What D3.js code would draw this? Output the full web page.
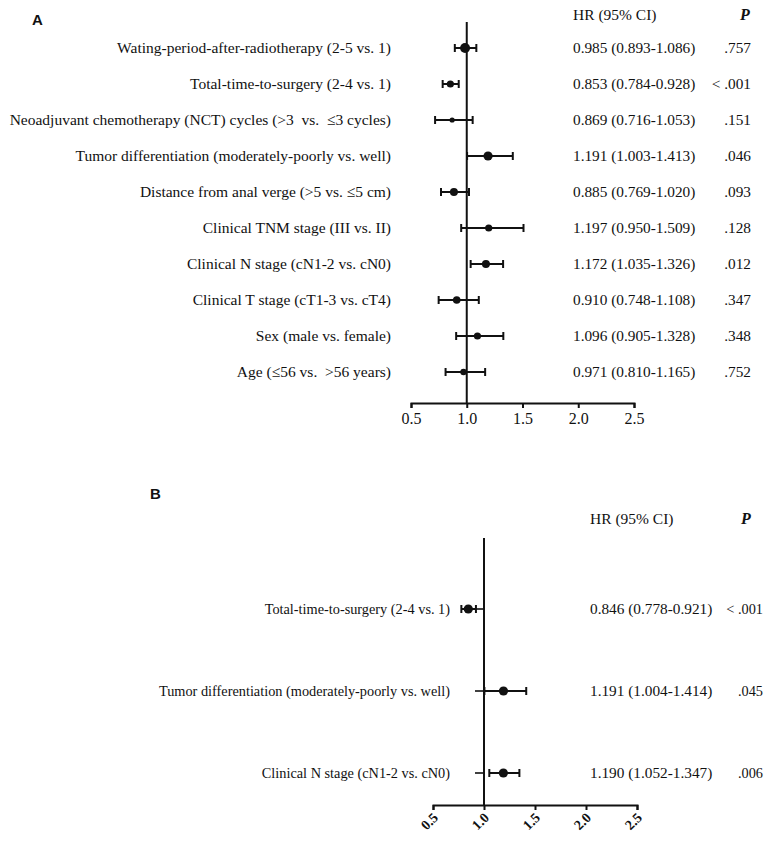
<!DOCTYPE html>
<html><head><meta charset="utf-8">
<script src="https://cdn.jsdelivr.net/npm/d3@7"></script>
<style>
html,body{margin:0;padding:0;background:#fff;}
text{font-family:"Liberation Serif","Times New Roman",serif;fill:#111;white-space:pre;}
</style></head>
<body><svg id="c" width="765" height="856"></svg>
<script>
// ---------- data: panel A ----------
const labelsA = [
  "Wating-period-after-radiotherapy (2-5 vs. 1)",
  "Total-time-to-surgery (2-4 vs. 1)",
  "Neoadjuvant chemotherapy (NCT) cycles (>3  vs.  \u22643 cycles)",
  "Tumor differentiation (moderately-poorly vs. well)",
  "Distance from anal verge (>5 vs. \u22645 cm)",
  "Clinical TNM stage (III vs. II)",
  "Clinical N stage (cN1-2 vs. cN0)",
  "Clinical T stage (cT1-3 vs. cT4)",
  "Sex (male vs. female)",
  "Age (\u226456 vs.  >56 years)"
];
const hrA    = [0.985, 0.853, 0.869, 1.191, 0.885, 1.197, 1.172, 0.910, 1.096, 0.971];
const lowerA = [0.893, 0.784, 0.716, 1.003, 0.769, 0.950, 1.035, 0.748, 0.905, 0.810];
const upperA = [1.086, 0.928, 1.053, 1.413, 1.020, 1.509, 1.326, 1.108, 1.328, 1.165];
const pA     = [".757", "< .001", ".151", ".046", ".093", ".128", ".012", ".347", ".348", ".752"];

// ---------- data: panel B ----------
const labelsB = [
  "Total-time-to-surgery (2-4 vs. 1)",
  "Tumor differentiation (moderately-poorly vs. well)",
  "Clinical N stage (cN1-2 vs. cN0)"
];
const hrB    = [0.846, 1.191, 1.190];
const lowerB = [0.778, 1.004, 1.052];
const upperB = [0.921, 1.414, 1.347];
const pB     = ["< .001", ".045", ".006"];

const xTicks = [0.5, 1.0, 1.5, 2.0, 2.5];

// marker radii (style only)
const dotRA = [5, 3.6, 2.6, 4.6, 4, 3.6, 4, 3.8, 3.6, 3.2];
const dotRB = [4.6, 4.6, 4.6];

const svg = d3.select("#c");
const fmt3 = d3.format(".3f");
const fmt1 = d3.format(".1f");

function forest(cfg){
  const g = svg.append("g");
  const x = d3.scaleLinear().domain([0.5, 2.5]).range(cfg.xRange);
  const y = d3.scalePoint().domain(d3.range(cfg.labels.length)).range(cfg.yRange);

  g.append("text").attr("x", cfg.letterX).attr("y", cfg.letterY)
    .style("font-family", "'Liberation Sans',Arial,sans-serif")
    .style("font-weight", "bold").style("font-size", "15px").text(cfg.letter);

  g.append("text").attr("x", cfg.hrX).attr("y", cfg.headY)
    .attr("text-anchor", "start")
    .style("font-size", "15.5px").text("HR (95% CI)");
  g.append("text").attr("x", cfg.pHeadX).attr("y", cfg.headY)
    .attr("text-anchor", "middle")
    .style("font-size", "16px").style("font-weight", "bold").style("font-style", "italic").text("P");

  g.append("line")
    .attr("x1", x(1)).attr("x2", x(1))
    .attr("y1", cfg.lineTop).attr("y2", cfg.axisY)
    .attr("stroke", "#111").attr("stroke-width", 2);

  if (cfg.yTicks) {
    g.selectAll(".yt").data(cfg.labels).enter().append("line")
      .attr("x1", x(1) - 9).attr("x2", x(1))
      .attr("y1", (d, i) => y(i)).attr("y2", (d, i) => y(i))
      .attr("stroke", "#111").attr("stroke-width", 1.6);
  }

  const ax = g.append("g").attr("transform", `translate(0,${cfg.axisY})`)
    .call(d3.axisBottom(x).tickValues(xTicks).tickFormat(fmt1).tickSize(5).tickSizeOuter(5));
  ax.select(".domain").attr("stroke", "#111").attr("stroke-width", 2);
  ax.selectAll(".tick line").attr("stroke", "#111").attr("stroke-width", 2);
  ax.selectAll(".tick text")
    .style("font-family", "'Liberation Serif','Times New Roman',serif")
    .style("font-size", "16px").attr("fill", "#111");
  if (cfg.rotate) {
    ax.selectAll(".tick text")
      .attr("text-anchor", "end")
      .attr("dy", "0.35em")
      .attr("transform", "translate(2,10) rotate(-45)")
      .attr("y", 0).attr("x", 0)
      .style("font-weight", "bold").style("font-size", "14px");
  } else {
    ax.selectAll(".tick text").attr("y", 10);
  }

  const rows = g.selectAll(".row").data(cfg.labels).enter().append("g");

  rows.append("text").attr("x", cfg.labelX).attr("y", (d, i) => y(i))
    .attr("dy", "0.35em").attr("text-anchor", "end")
    .style("font-size", cfg.labelSize).text(d => d);

  rows.append("line")
    .attr("x1", (d, i) => x(cfg.lower[i])).attr("x2", (d, i) => x(cfg.upper[i]))
    .attr("y1", (d, i) => y(i)).attr("y2", (d, i) => y(i))
    .attr("stroke", "#111").attr("stroke-width", 2);
  ["lower", "upper"].forEach(k => {
    rows.append("line")
      .attr("x1", (d, i) => x(cfg[k][i])).attr("x2", (d, i) => x(cfg[k][i]))
      .attr("y1", (d, i) => y(i) - 4).attr("y2", (d, i) => y(i) + 4)
      .attr("stroke", "#111").attr("stroke-width", 2);
  });
  rows.append("circle")
    .attr("cx", (d, i) => x(cfg.hr[i])).attr("cy", (d, i) => y(i))
    .attr("r", (d, i) => cfg.dotR[i]).attr("fill", "#111");

  rows.append("text").attr("x", cfg.hrX).attr("y", (d, i) => y(i))
    .attr("dy", "0.35em").attr("text-anchor", "start")
    .style("font-size", "15.3px")
    .text((d, i) => `${fmt3(cfg.hr[i])} (${fmt3(cfg.lower[i])}-${fmt3(cfg.upper[i])})`);
  rows.append("text").attr("x", cfg.pX).attr("y", (d, i) => y(i))
    .attr("dy", "0.35em").attr("text-anchor", "end")
    .style("font-size", cfg.pSize)
    .text((d, i) => cfg.p[i]);
}

forest({
  letter: "A", letterX: 32, letterY: 25,
  labels: labelsA, hr: hrA, lower: lowerA, upper: upperA, p: pA, dotR: dotRA,
  xRange: [411, 634], yRange: [48, 372],
  lineTop: 22, axisY: 403,
  labelX: 391, labelSize: "15.5px",
  hrX: 573, headY: 20,
  pHeadX: 745, pX: 751, pSize: "15.3px",
  yTicks: false, rotate: false
});

forest({
  letter: "B", letterX: 150, letterY: 499,
  labels: labelsB, hr: hrB, lower: lowerB, upper: upperB, p: pB, dotR: dotRB,
  xRange: [433, 637], yRange: [609, 773],
  lineTop: 538, axisY: 805,
  labelX: 450, labelSize: "14.3px",
  hrX: 590, headY: 524,
  pHeadX: 746, pX: 763, pSize: "14.3px",
  yTicks: true, rotate: true
});
</script></body></html>
